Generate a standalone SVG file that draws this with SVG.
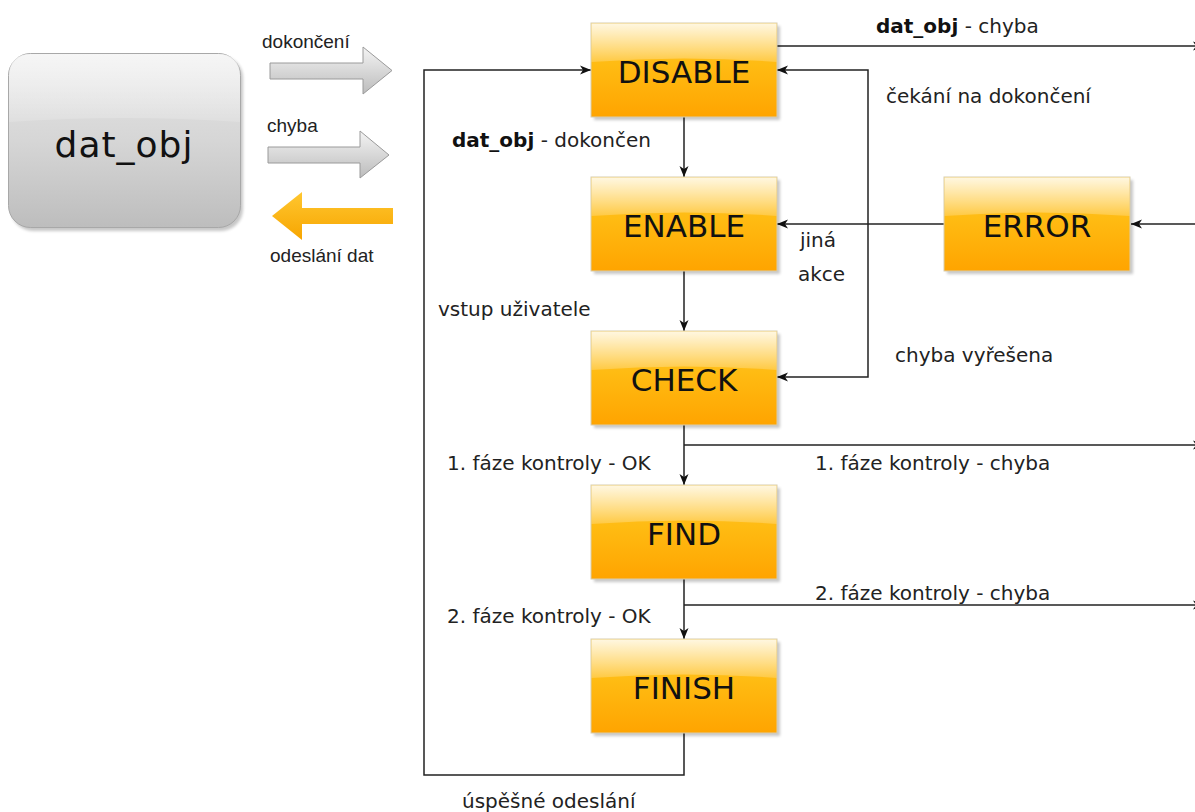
<svg xmlns="http://www.w3.org/2000/svg" width="1195" height="812" viewBox="0 0 1195 812">
  <defs>
    <style>
      .state-label { font-family: "DejaVu Sans", Verdana, sans-serif; font-size: 31px; fill: #111; text-anchor: middle; }
      .label { font-family: "DejaVu Sans", Verdana, sans-serif; font-size: 20px; fill: #222; }
      .bold { font-weight: bold; fill: #111; }
      .io-label { font-family: "Liberation Sans", Arial, sans-serif; font-size: 19px; fill: #222; }
      .conn-arrow { fill: none; stroke: #222; stroke-width: 1.5; marker-end: url(#head); }
      .box { fill: url(#orangeBase); stroke: #d8cdb0; stroke-width: 1; }
      .gloss { fill: url(#glossFade); }
      .shadow { fill: #000; opacity: 0.22; filter: url(#soft); }
    </style>
    <linearGradient id="orangeBase" x1="0" y1="0" x2="0" y2="1">
      <stop offset="0" stop-color="#ffc830"/>
      <stop offset="0.45" stop-color="#ffbb12"/>
      <stop offset="1" stop-color="#ffa400"/>
    </linearGradient>
    <linearGradient id="glossFade" x1="0" y1="0" x2="0" y2="1">
      <stop offset="0" stop-color="#ffffff" stop-opacity="0.85"/>
      <stop offset="1" stop-color="#ffffff" stop-opacity="0.2"/>
    </linearGradient>
    <linearGradient id="grayBase" x1="0" y1="0" x2="0" y2="1">
      <stop offset="0" stop-color="#e6e6e6"/>
      <stop offset="0.5" stop-color="#d6d6d6"/>
      <stop offset="1" stop-color="#bdbdbd"/>
    </linearGradient>
    <linearGradient id="grayArrow" x1="0" y1="0" x2="0" y2="1">
      <stop offset="0" stop-color="#f4f4f4"/>
      <stop offset="1" stop-color="#bcbcbc"/>
    </linearGradient>
    <linearGradient id="orangeArrow" x1="0" y1="0" x2="0" y2="1">
      <stop offset="0" stop-color="#ffc730"/>
      <stop offset="1" stop-color="#f7a500"/>
    </linearGradient>
    <filter id="soft" x="-10%" y="-10%" width="120%" height="130%">
      <feGaussianBlur stdDeviation="1.5"/>
    </filter>
    <marker id="head" markerWidth="12" markerHeight="10" refX="11" refY="5" orient="auto" markerUnits="userSpaceOnUse">
      <path d="M0,0.5 L11,5 L0,9.5 L3,5 z" fill="#111"/>
    </marker>
  </defs>

  <!-- data object -->
  <g id="dat_obj">
    <rect x="11" y="56" width="232" height="175" rx="22" class="shadow"/>
    <rect x="8.5" y="53.5" width="232" height="174" rx="22" fill="url(#grayBase)" stroke="#a8a8a8" stroke-width="1"/>
    <path d="M9,75.5 Q9,54 31,54 L218,54 Q240,54 240,75.5 L240,122 Q124,114 9,122 z" fill="url(#glossFade)" opacity="0.75"/>
    <text x="124" y="157" font-family="DejaVu Sans, Verdana, sans-serif" font-size="36" letter-spacing="1" fill="#111" text-anchor="middle">dat_obj</text>
  </g>

  <!-- interface arrows between the data object and the state machine -->
  <g id="io-done">
    <text class="io-label" x="262" y="48">dokončení</text>
    <path d="M270,63 H363 V47 L392,70.5 L363,94 V79 H270 z" fill="url(#grayArrow)" stroke="#9a9a9a" stroke-width="1"/>
  </g>
  <g id="io-error">
    <text class="io-label" x="267" y="132">chyba</text>
    <path d="M268,147 H360 V131 L389,155 L360,178 V163 H268 z" fill="url(#grayArrow)" stroke="#9a9a9a" stroke-width="1"/>
  </g>
  <g id="io-send">
    <path d="M393,208 H302 V192 L272,216 L302,240 V224 H393 z" fill="url(#orangeArrow)"/>
    <text class="io-label" x="270" y="262">odeslání dat</text>
  </g>

  <!-- connectors -->
  <g id="connectors">
    <path class="conn-arrow" d="M684,117 V177"/>
    <path class="conn-arrow" d="M684,271 V331"/>
    <path class="conn-arrow" d="M684,425 V485"/>
    <path class="conn-arrow" d="M684,579 V639"/>
    <path class="conn-arrow" d="M684,445 H1204"/>
    <path class="conn-arrow" d="M684,605 H1204"/>
    <path class="conn-arrow" d="M684,733 V775 H424 V70 H591"/>
    <path class="conn-arrow" d="M777,46 H1204"/>
    <path class="conn-arrow" d="M944,224 H777"/>
    <path class="conn-arrow" d="M868,224 V70 H777"/>
    <path class="conn-arrow" d="M868,224 V377 H777"/>
    <path class="conn-arrow" d="M1200,224 H1131"/>
  </g>

  <!-- states -->
  <g id="DISABLE">
    <rect x="594" y="26" width="186" height="94" class="shadow"/>
    <rect x="591" y="23" width="186" height="94" class="box"/>
    <path d="M591.5,23.5 H776.5 V62 Q684,55 591.5,62 z" class="gloss"/>
    <text class="state-label" x="684" y="83">DISABLE</text>
  </g>
  <g id="ENABLE">
    <rect x="594" y="180" width="186" height="94" class="shadow"/>
    <rect x="591" y="177" width="186" height="94" class="box"/>
    <path d="M591.5,177.5 H776.5 V216 Q684,209 591.5,216 z" class="gloss"/>
    <text class="state-label" x="684" y="237">ENABLE</text>
  </g>
  <g id="CHECK">
    <rect x="594" y="334" width="186" height="94" class="shadow"/>
    <rect x="591" y="331" width="186" height="94" class="box"/>
    <path d="M591.5,331.5 H776.5 V370 Q684,363 591.5,370 z" class="gloss"/>
    <text class="state-label" x="684" y="391">CHECK</text>
  </g>
  <g id="FIND">
    <rect x="594" y="488" width="186" height="94" class="shadow"/>
    <rect x="591" y="485" width="186" height="94" class="box"/>
    <path d="M591.5,485.5 H776.5 V524 Q684,517 591.5,524 z" class="gloss"/>
    <text class="state-label" x="684" y="545">FIND</text>
  </g>
  <g id="FINISH">
    <rect x="594" y="642" width="186" height="94" class="shadow"/>
    <rect x="591" y="639" width="186" height="94" class="box"/>
    <path d="M591.5,639.5 H776.5 V678 Q684,671 591.5,678 z" class="gloss"/>
    <text class="state-label" x="684" y="699">FINISH</text>
  </g>
  <g id="ERROR">
    <rect x="947" y="180" width="186" height="94" class="shadow"/>
    <rect x="944" y="177" width="186" height="94" class="box"/>
    <path d="M944.5,177.5 H1129.5 V216 Q1037,209 944.5,216 z" class="gloss"/>
    <text class="state-label" x="1037" y="237">ERROR</text>
  </g>

  <!-- transition labels -->
  <g id="labels">
    <text class="label" x="876" y="33"><tspan class="bold">dat_obj</tspan> - chyba</text>
    <text class="label" x="886" y="103">čekání na dokončení</text>
    <text class="label" x="452" y="147"><tspan class="bold">dat_obj</tspan> - dokončen</text>
    <text class="label" x="800" y="247">jiná</text>
    <text class="label" x="798" y="281">akce</text>
    <text class="label" x="438" y="316">vstup uživatele</text>
    <text class="label" x="895" y="362">chyba vyřešena</text>
    <text class="label" x="447" y="470">1. fáze kontroly - OK</text>
    <text class="label" x="815" y="470">1. fáze kontroly - chyba</text>
    <text class="label" x="815" y="600">2. fáze kontroly - chyba</text>
    <text class="label" x="447" y="623">2. fáze kontroly - OK</text>
    <text class="label" x="462" y="808">úspěšné odeslání</text>
  </g>
</svg>
